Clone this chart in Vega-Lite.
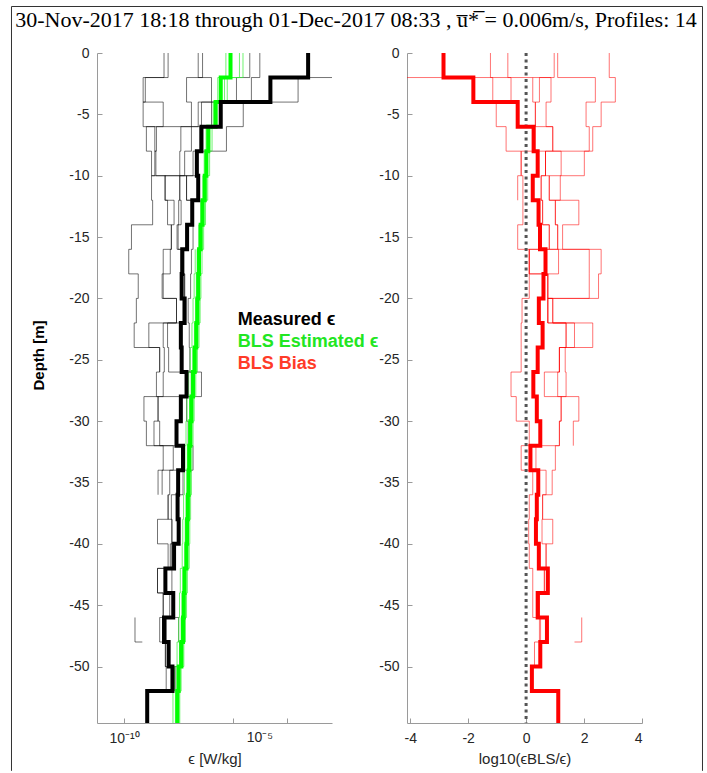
{
  "$schema": "https://vega.github.io/schema/vega-lite/v6.json",
  "padding": {"left": 10, "top": 6, "right": 5, "bottom": 0},
  "autosize": {"type": "pad"},
  "bounds": "flush",
  "spacing": 75,
  "config": {
    "view": {"stroke": null},
    "axis": {"grid": false, "domainColor": "#9a9a9a", "domainWidth": 1, "tickColor": "#9a9a9a", "tickSize": -5, "labelColor": "#262626", "labelFont": "Liberation Sans", "labelFontSize": 14, "labelPadding": 13, "labelOverlap": false, "titleFont": "Liberation Sans", "titleFontSize": 15, "titleFontWeight": "normal", "titleColor": "#262626", "titlePadding": 6}
  },
  "datasets": {
    "eps": [
      {"p":"M","d":0,"v":-3.22},{"p":"M","d":-2,"v":-4.61},{"p":"M","d":-4,"v":-6.44},{"p":"M","d":-6,"v":-7.15},{"p":"M","d":-8,"v":-7.32},{"p":"M","d":-10,"v":-7.27},{"p":"M","d":-12,"v":-7.49},{"p":"M","d":-14,"v":-7.68},{"p":"M","d":-16,"v":-7.86},{"p":"M","d":-18,"v":-7.88},{"p":"M","d":-20,"v":-7.77},{"p":"M","d":-22,"v":-7.91},{"p":"M","d":-24,"v":-7.88},{"p":"M","d":-26,"v":-7.70},{"p":"M","d":-28,"v":-7.91},{"p":"M","d":-30,"v":-8.07},{"p":"M","d":-32,"v":-7.83},{"p":"M","d":-34,"v":-8.01},{"p":"M","d":-36,"v":-8.03},{"p":"M","d":-38,"v":-7.99},{"p":"M","d":-40,"v":-8.16},{"p":"M","d":-42,"v":-8.48},{"p":"M","d":-44,"v":-8.19},{"p":"M","d":-46,"v":-8.53},{"p":"M","d":-48,"v":-8.36},{"p":"M","d":-50,"v":-8.22},{"p":"M","d":-52,"v":-9.15},{"p":"M","d":-54.6,"v":-9.15},
      {"p":"G","d":0,"v":-6.08},{"p":"G","d":-2,"v":-6.44},{"p":"G","d":-4,"v":-6.63},{"p":"G","d":-6,"v":-6.90},{"p":"G","d":-8,"v":-6.97},{"p":"G","d":-10,"v":-7.03},{"p":"G","d":-12,"v":-7.11},{"p":"G","d":-14,"v":-7.18},{"p":"G","d":-16,"v":-7.24},{"p":"G","d":-18,"v":-7.27},{"p":"G","d":-20,"v":-7.30},{"p":"G","d":-22,"v":-7.34},{"p":"G","d":-24,"v":-7.40},{"p":"G","d":-26,"v":-7.46},{"p":"G","d":-28,"v":-7.52},{"p":"G","d":-30,"v":-7.56},{"p":"G","d":-32,"v":-7.60},{"p":"G","d":-34,"v":-7.62},{"p":"G","d":-36,"v":-7.65},{"p":"G","d":-38,"v":-7.68},{"p":"G","d":-40,"v":-7.70},{"p":"G","d":-42,"v":-7.77},{"p":"G","d":-44,"v":-7.80},{"p":"G","d":-46,"v":-7.83},{"p":"G","d":-48,"v":-7.89},{"p":"G","d":-50,"v":-7.99},{"p":"G","d":-52,"v":-8.04},{"p":"G","d":-54.6,"v":-8.04},
      {"p":"m1","d":0,"v":-1.5},{"p":"m1","d":-2,"v":-3.59},{"p":"m1","d":-4,"v":-5.61},{"p":"m1","d":-6,"v":-6.23},{"p":"m1","d":-8,"v":-7.46},{"p":"m1","d":-10,"v":-7.70},{"p":"m1","d":-12,"v":-7.52},{"p":"m1","d":-14,"v":-7.46},{"p":"m1","d":-16,"v":-7.52},{"p":"m1","d":-18,"v":-7.55},{"p":"m1","d":-20,"v":-7.64},{"p":"m1","d":-22,"v":-7.60},{"p":"m1","d":-24,"v":-7.58},{"p":"m1","d":-26,"v":-7.15},{"p":"m1","d":-28,"v":-7.70},{"p":"m1","d":-30,"v":-7.64},{"p":"m1","d":-32,"v":-7.46},{"p":"m1","d":-34,"v":-7.83},{"p":"m1","d":-36,"v":-8.26},{"p":"m1","d":-38,"v":-8.24},{"p":"m1","d":-40,"v":-8.26},{"p":"m1","d":-42,"v":-8.24},{"p":"m1","d":-44,"v":-8.32},{"p":"m1","d":-46,"v":-7.99},{"p":"m1","d":-48,"v":-7.95},{"p":"m1","d":-50,"v":-8.13},{"p":"m1","d":-52,"v":-8.13},
      {"p":"m2","d":0,"v":-5.00},{"p":"m2","d":-2,"v":-5.31},{"p":"m2","d":-4,"v":-6.78},{"p":"m2","d":-6,"v":-7.21},{"p":"m2","d":-8,"v":-7.34},{"p":"m2","d":-10,"v":-7.95},{"p":"m2","d":-12,"v":-7.99},{"p":"m2","d":-14,"v":-8.01},{"p":"m2","d":-16,"v":-7.83},{"p":"m2","d":-18,"v":-7.77},{"p":"m2","d":-20,"v":-7.83},{"p":"m2","d":-22,"v":-8.40},{"p":"m2","d":-24,"v":-8.36},{"p":"m2","d":-26,"v":-7.52},{"p":"m2","d":-28,"v":-8.75},{"p":"m2","d":-30,"v":-8.69},{"p":"m2","d":-32,"v":-7.83},{"p":"m2","d":-34,"v":-8.32},{"p":"m2","d":-36,"v":-8.38},{"p":"m2","d":-38,"v":-8.77},{"p":"m2","d":-40,"v":-8.38},{"p":"m2","d":-42,"v":-8.77},{"p":"m2","d":-44,"v":-8.56},{"p":"m2","d":-46,"v":-8.44},{"p":"m2","d":-48,"v":-8.48},{"p":"m2","d":-50,"v":-8.45},{"p":"m2","d":-52,"v":-8.45},
      {"p":"m3","d":0,"v":-5.37},{"p":"m3","d":-2,"v":-5.86},{"p":"m3","d":-4,"v":-7.15},{"p":"m3","d":-6,"v":-7.52},{"p":"m3","d":-8,"v":-7.77},{"p":"m3","d":-10,"v":-8.50},{"p":"m3","d":-12,"v":-8.16},{"p":"m3","d":-14,"v":-8.26},{"p":"m3","d":-16,"v":-8.30},{"p":"m3","d":-18,"v":-8.56},{"p":"m3","d":-20,"v":-8.07},{"p":"m3","d":-22,"v":-8.56},{"p":"m3","d":-24,"v":-8.52},{"p":"m3","d":-26,"v":-8.56},{"p":"m3","d":-28,"v":-9.27},{"p":"m3","d":-30,"v":-9.18},{"p":"m3","d":-32,"v":-8.19},{"p":"m3","d":-34,"v":-8.75},{"p":"m3","d":-36,"v":-8.75},
      {"p":"m4","d":0,"v":-7.11},{"p":"m4","d":-2,"v":-7.70},{"p":"m4","d":-4,"v":-7.52},{"p":"m4","d":-6,"v":-8.81},{"p":"m4","d":-8,"v":-8.87},{"p":"m4","d":-10,"v":-8.99},{"p":"m4","d":-12,"v":-8.95},{"p":"m4","d":-14,"v":-9.73},{"p":"m4","d":-16,"v":-9.83},{"p":"m4","d":-18,"v":-9.48},{"p":"m4","d":-20,"v":-9.55},{"p":"m4","d":-22,"v":-9.63},{"p":"m4","d":-24,"v":-8.69},{"p":"m4","d":-26,"v":-8.81},{"p":"m4","d":-28,"v":-8.75},{"p":"m4","d":-30,"v":-8.90},{"p":"m4","d":-32,"v":-8.56},{"p":"m4","d":-34,"v":-8.60},{"p":"m4","d":-36,"v":-8.60},
      {"p":"m5","d":0,"v":-8.53},{"p":"m5","d":-2,"v":-9.30},{"p":"m5","d":-4,"v":-8.56},{"p":"m5","d":-6,"v":-9.18},{"p":"m5","d":-8,"v":-8.99},{"p":"m5","d":-10,"v":-8.48},{"p":"m5","d":-12,"v":-8.40},{"p":"m5","d":-14,"v":-8.26},{"p":"m5","d":-16,"v":-8.56},{"p":"m5","d":-18,"v":-8.60},{"p":"m5","d":-20,"v":-8.07},{"p":"m5","d":-22,"v":-9.09},{"p":"m5","d":-24,"v":-8.69},{"p":"m5","d":-26,"v":-8.69},
      {"p":"m6","d":0,"v":-8.38},{"p":"m6","d":-2,"v":-9.22},{"p":"m6","d":-4,"v":-9.30},{"p":"m6","d":-6,"v":-8.87},{"p":"m6","d":-8,"v":-8.83},{"p":"m6","d":-10,"v":-7.95},{"p":"m6","d":-12,"v":-7.90},{"p":"m6","d":-14,"v":-8.05},{"p":"m6","d":-16,"v":-7.80},{"p":"m6","d":-18,"v":-7.77},{"p":"m6","d":-20,"v":-7.77},
      {"p":"m7","d":0,"v":-7.27},{"p":"m7","d":-2,"v":-6.78},{"p":"m7","d":-4,"v":-7.27},{"p":"m7","d":-6,"v":-7.91},{"p":"m7","d":-8,"v":-7.95},{"p":"m7","d":-10,"v":-7.70},{"p":"m7","d":-12,"v":-7.52},{"p":"m7","d":-14,"v":-7.52},
      {"p":"m8","d":-36,"v":-8.38},{"p":"m8","d":-38,"v":-8.24},{"p":"m8","d":-40,"v":-8.30},{"p":"m8","d":-42,"v":-8.77},{"p":"m8","d":-44,"v":-8.56},{"p":"m8","d":-46,"v":-8.69},{"p":"m8","d":-48,"v":-8.48},{"p":"m8","d":-50,"v":-8.13},{"p":"m8","d":-52,"v":-8.13},
      {"p":"m9","d":-46,"v":-9.60},{"p":"m9","d":-48,"v":-9.33},
      {"p":"g1","d":0,"v":-5.75},{"p":"g1","d":-2,"v":-6.20},{"p":"g1","d":-4,"v":-6.45},{"p":"g1","d":-6,"v":-6.76},{"p":"g1","d":-8,"v":-6.85},{"p":"g1","d":-10,"v":-6.92},{"p":"g1","d":-12,"v":-7.00},{"p":"g1","d":-14,"v":-7.07},{"p":"g1","d":-16,"v":-7.13},{"p":"g1","d":-18,"v":-7.17},{"p":"g1","d":-20,"v":-7.20},{"p":"g1","d":-22,"v":-7.24},{"p":"g1","d":-24,"v":-7.30},{"p":"g1","d":-26,"v":-7.36},{"p":"g1","d":-28,"v":-7.42},{"p":"g1","d":-30,"v":-7.46},{"p":"g1","d":-32,"v":-7.50},{"p":"g1","d":-34,"v":-7.52},{"p":"g1","d":-36,"v":-7.55},{"p":"g1","d":-38,"v":-7.58},{"p":"g1","d":-40,"v":-7.60},{"p":"g1","d":-42,"v":-7.67},{"p":"g1","d":-44,"v":-7.70},{"p":"g1","d":-46,"v":-7.74},{"p":"g1","d":-48,"v":-7.80},{"p":"g1","d":-50,"v":-7.90},{"p":"g1","d":-52,"v":-7.95},{"p":"g1","d":-54.6,"v":-7.95},
      {"p":"g2","d":0,"v":-6.25},{"p":"g2","d":-2,"v":-6.55},{"p":"g2","d":-4,"v":-6.72},{"p":"g2","d":-6,"v":-6.98},{"p":"g2","d":-8,"v":-7.05},{"p":"g2","d":-10,"v":-7.10},{"p":"g2","d":-12,"v":-7.18},{"p":"g2","d":-14,"v":-7.25},{"p":"g2","d":-16,"v":-7.31},{"p":"g2","d":-18,"v":-7.34},{"p":"g2","d":-20,"v":-7.37},{"p":"g2","d":-22,"v":-7.41},{"p":"g2","d":-24,"v":-7.47},{"p":"g2","d":-26,"v":-7.53},{"p":"g2","d":-28,"v":-7.59},{"p":"g2","d":-30,"v":-7.63},{"p":"g2","d":-32,"v":-7.67},{"p":"g2","d":-34,"v":-7.69},{"p":"g2","d":-36,"v":-7.72},{"p":"g2","d":-38,"v":-7.75},{"p":"g2","d":-40,"v":-7.77},{"p":"g2","d":-42,"v":-7.84},{"p":"g2","d":-44,"v":-7.87},{"p":"g2","d":-46,"v":-7.90},{"p":"g2","d":-48,"v":-7.96},{"p":"g2","d":-50,"v":-8.06},{"p":"g2","d":-52,"v":-8.11},{"p":"g2","d":-54.6,"v":-8.11},
      {"p":"g3","d":0,"v":-5.62},{"p":"g3","d":-2,"v":-6.30},{"p":"g3","d":-4,"v":-6.58},{"p":"g3","d":-6,"v":-6.84},{"p":"g3","d":-8,"v":-6.92},{"p":"g3","d":-10,"v":-6.98},{"p":"g3","d":-12,"v":-7.06},{"p":"g3","d":-14,"v":-7.13},{"p":"g3","d":-16,"v":-7.19},{"p":"g3","d":-18,"v":-7.22},{"p":"g3","d":-20,"v":-7.25},{"p":"g3","d":-22,"v":-7.29},{"p":"g3","d":-24,"v":-7.35},{"p":"g3","d":-26,"v":-7.41},{"p":"g3","d":-28,"v":-7.47},{"p":"g3","d":-30,"v":-7.51},{"p":"g3","d":-32,"v":-7.55},{"p":"g3","d":-34,"v":-7.55},
      {"p":"g4","d":-16,"v":-7.38},{"p":"g4","d":-18,"v":-7.42},{"p":"g4","d":-20,"v":-7.46},{"p":"g4","d":-22,"v":-7.50},{"p":"g4","d":-24,"v":-7.56},{"p":"g4","d":-26,"v":-7.62},{"p":"g4","d":-28,"v":-7.68},{"p":"g4","d":-30,"v":-7.72},{"p":"g4","d":-32,"v":-7.76},{"p":"g4","d":-34,"v":-7.78},{"p":"g4","d":-36,"v":-7.81},{"p":"g4","d":-38,"v":-7.84},{"p":"g4","d":-40,"v":-7.86},{"p":"g4","d":-42,"v":-7.93},{"p":"g4","d":-44,"v":-7.96},{"p":"g4","d":-46,"v":-7.99},{"p":"g4","d":-48,"v":-8.05},{"p":"g4","d":-50,"v":-8.15},{"p":"g4","d":-52,"v":-8.20},{"p":"g4","d":-54.6,"v":-8.20}
    ],
    "bias": [
      {"p":"R","d":0,"v":-2.85},{"p":"R","d":-2,"v":-1.82},{"p":"R","d":-4,"v":-0.29},{"p":"R","d":-6,"v":0.26},{"p":"R","d":-8,"v":0.40},{"p":"R","d":-10,"v":0.23},{"p":"R","d":-12,"v":0.43},{"p":"R","d":-14,"v":0.48},{"p":"R","d":-16,"v":0.67},{"p":"R","d":-18,"v":0.60},{"p":"R","d":-20,"v":0.44},{"p":"R","d":-22,"v":0.57},{"p":"R","d":-24,"v":0.40},{"p":"R","d":-26,"v":0.25},{"p":"R","d":-28,"v":0.37},{"p":"R","d":-30,"v":0.49},{"p":"R","d":-32,"v":0.15},{"p":"R","d":-34,"v":0.42},{"p":"R","d":-36,"v":0.37},{"p":"R","d":-38,"v":0.34},{"p":"R","d":-40,"v":0.44},{"p":"R","d":-42,"v":0.75},{"p":"R","d":-44,"v":0.40},{"p":"R","d":-46,"v":0.72},{"p":"R","d":-48,"v":0.49},{"p":"R","d":-50,"v":0.20},{"p":"R","d":-52,"v":1.11},{"p":"R","d":-54.6,"v":1.11},
      {"p":"r1","d":0,"v":-4.6},{"p":"r1","d":-2,"v":0.86},{"p":"r1","d":-4,"v":0.69},{"p":"r1","d":-6,"v":0.92},{"p":"r1","d":-8,"v":1.21},{"p":"r1","d":-10,"v":1.18},{"p":"r1","d":-12,"v":1.01},{"p":"r1","d":-14,"v":1.09},{"p":"r1","d":-16,"v":1.12},{"p":"r1","d":-18,"v":0.75},{"p":"r1","d":-20,"v":0.92},{"p":"r1","d":-22,"v":1.38},{"p":"r1","d":-24,"v":1.35},{"p":"r1","d":-26,"v":1.38},{"p":"r1","d":-28,"v":1.21},{"p":"r1","d":-30,"v":1.15},{"p":"r1","d":-32,"v":1.01},{"p":"r1","d":-34,"v":0.90},{"p":"r1","d":-36,"v":0.57},{"p":"r1","d":-38,"v":0.55},{"p":"r1","d":-40,"v":0.69},{"p":"r1","d":-42,"v":0.63},{"p":"r1","d":-44,"v":0.46},{"p":"r1","d":-46,"v":0.50},{"p":"r1","d":-48,"v":0.46},{"p":"r1","d":-50,"v":0.46},
      {"p":"r2","d":0,"v":2.87},{"p":"r2","d":-2,"v":3.08},{"p":"r2","d":-4,"v":2.59},{"p":"r2","d":-6,"v":2.30},{"p":"r2","d":-8,"v":2.01},{"p":"r2","d":-10,"v":0.80},{"p":"r2","d":-12,"v":1.82},{"p":"r2","d":-14,"v":1.26},{"p":"r2","d":-16,"v":2.59},{"p":"r2","d":-18,"v":2.50},{"p":"r2","d":-20,"v":0.75},{"p":"r2","d":-22,"v":2.30},{"p":"r2","d":-24,"v":1.15},{"p":"r2","d":-26,"v":1.09},{"p":"r2","d":-28,"v":1.82},{"p":"r2","d":-30,"v":1.63},{"p":"r2","d":-32,"v":1.63},
      {"p":"r3","d":0,"v":1.09},{"p":"r3","d":-2,"v":2.39},{"p":"r3","d":-4,"v":2.07},{"p":"r3","d":-6,"v":2.18},{"p":"r3","d":-8,"v":0.67},{"p":"r3","d":-10,"v":0.52},{"p":"r3","d":-12,"v":0.57},{"p":"r3","d":-14,"v":0.80},{"p":"r3","d":-16,"v":2.18},{"p":"r3","d":-18,"v":2.18},{"p":"r3","d":-20,"v":0.75},{"p":"r3","d":-22,"v":1.67},{"p":"r3","d":-24,"v":1.15},{"p":"r3","d":-26,"v":1.15},
      {"p":"r4","d":0,"v":-1.23},{"p":"r4","d":-2,"v":-1.15},{"p":"r4","d":-4,"v":-0.29},{"p":"r4","d":-6,"v":0.30},{"p":"r4","d":-8,"v":-0.17},{"p":"r4","d":-10,"v":-0.11},{"p":"r4","d":-12,"v":-0.11},{"p":"r4","d":-14,"v":-0.29},{"p":"r4","d":-16,"v":0.11},{"p":"r4","d":-18,"v":0.11},{"p":"r4","d":-20,"v":-0.14},{"p":"r4","d":-22,"v":-0.17},{"p":"r4","d":-24,"v":-0.17},{"p":"r4","d":-26,"v":-0.52},{"p":"r4","d":-28,"v":-0.34},{"p":"r4","d":-30,"v":0.11},{"p":"r4","d":-32,"v":-0.17},{"p":"r4","d":-34,"v":0.23},{"p":"r4","d":-36,"v":0.11},{"p":"r4","d":-38,"v":0.09},{"p":"r4","d":-40,"v":0.11},{"p":"r4","d":-42,"v":0.23},{"p":"r4","d":-44,"v":0.23},{"p":"r4","d":-46,"v":0.46},{"p":"r4","d":-48,"v":0.29},{"p":"r4","d":-50,"v":0.29},
      {"p":"r5","d":0,"v":-0.63},{"p":"r5","d":-2,"v":-0.52},{"p":"r5","d":-4,"v":-1.03},{"p":"r5","d":-6,"v":-0.69},{"p":"r5","d":-8,"v":-0.17},{"p":"r5","d":-10,"v":-0.29},{"p":"r5","d":-12,"v":-0.29},
      {"p":"r6","d":0,"v":0.97},{"p":"r6","d":-2,"v":0.46},{"p":"r6","d":-4,"v":0.32},{"p":"r6","d":-6,"v":0.92},{"p":"r6","d":-8,"v":0.67},{"p":"r6","d":-10,"v":0.80},{"p":"r6","d":-12,"v":1.01},{"p":"r6","d":-14,"v":1.09},{"p":"r6","d":-16,"v":0.11},{"p":"r6","d":-18,"v":0.75},{"p":"r6","d":-20,"v":0.92},{"p":"r6","d":-22,"v":1.38},{"p":"r6","d":-24,"v":1.15},{"p":"r6","d":-26,"v":0.63},{"p":"r6","d":-28,"v":1.21},{"p":"r6","d":-30,"v":1.15},{"p":"r6","d":-32,"v":0.34},{"p":"r6","d":-34,"v":0.69},{"p":"r6","d":-36,"v":0.57},{"p":"r6","d":-38,"v":0.92},{"p":"r6","d":-40,"v":0.69},{"p":"r6","d":-42,"v":0.63},{"p":"r6","d":-44,"v":0.46},{"p":"r6","d":-46,"v":0.46},
      {"p":"r7","d":-2,"v":0.23},{"p":"r7","d":-4,"v":0.32},{"p":"r7","d":-6,"v":0.30},{"p":"r7","d":-8,"v":0.67},{"p":"r7","d":-10,"v":0.52},{"p":"r7","d":-12,"v":0.57},{"p":"r7","d":-14,"v":0.80},{"p":"r7","d":-16,"v":0.11},{"p":"r7","d":-18,"v":0.75},{"p":"r7","d":-20,"v":0.75},{"p":"r7","d":-22,"v":0.75},
      {"p":"r8","d":-46,"v":1.92},{"p":"r8","d":-48,"v":1.67}
    ]
  },
  "hconcat": [
    {
      "width": 235,
      "height": 670,
      "data": {"name": "eps"},
      "layer": [
        {
          "transform": [{"filter": "indexof(datum.p, 'm') == 0"}],
          "mark": {"type": "line", "interpolate": "step-before", "clip": true, "color": "#000000", "strokeWidth": 1, "opacity": 0.55},
          "encoding": {
            "x": {"field": "v", "type": "quantitative", "scale": {"domain": [-11, -2.34], "nice": false, "zero": false},
                  "axis": {"values": [-10, -9, -8, -7, -6, -5, -4, -3], "labelOverlap": false, "labelFlush": false, "labelExpr": "datum.value == -10 ? '10⁻¹⁰' : ''", "title": "ϵ [W/kg]"}},
            "y": {"field": "d", "type": "quantitative", "scale": {"domain": [-54.6, 0], "nice": false, "zero": false},
                  "axis": {"values": [0, -5, -10, -15, -20, -25, -30, -35, -40, -45, -50], "labelExpr": "'' + datum.value", "title": "Depth [m]", "titleFontWeight": "bold", "titleColor": "#000000", "titleX": -59, "titleY": 302, "titleAngle": 270, "titleAlign": "center", "titleBaseline": "middle"}},
            "detail": {"field": "p"},
            "order": {"field": "d", "sort": "descending"}
          }
        },
        {
          "transform": [{"filter": "indexof(datum.p, 'g') == 0"}],
          "mark": {"type": "line", "interpolate": "step-before", "clip": true, "color": "#33ee33", "strokeWidth": 1, "opacity": 0.7},
          "encoding": {
            "x": {"field": "v", "type": "quantitative"},
            "y": {"field": "d", "type": "quantitative"},
            "detail": {"field": "p"},
            "order": {"field": "d", "sort": "descending"}
          }
        },
        {
          "transform": [{"filter": "datum.p == 'G'"}],
          "mark": {"type": "line", "interpolate": "step-before", "clip": true, "color": "#00ff00", "strokeWidth": 4},
          "encoding": {
            "x": {"field": "v", "type": "quantitative"},
            "y": {"field": "d", "type": "quantitative"},
            "order": {"field": "d", "sort": "descending"}
          }
        },
        {
          "transform": [{"filter": "datum.p == 'M'"}],
          "mark": {"type": "line", "interpolate": "step-before", "clip": true, "color": "#000000", "strokeWidth": 4},
          "encoding": {
            "x": {"field": "v", "type": "quantitative"},
            "y": {"field": "d", "type": "quantitative"},
            "order": {"field": "d", "sort": "descending"}
          }
        },
        {
          "data": {"values": [{}]},
          "mark": {"type": "text", "clip": false, "align": "center", "baseline": "top", "font": "Liberation Sans", "fontSize": 14, "color": "#262626"},
          "encoding": {"x": {"datum": -5, "type": "quantitative"}, "y": {"datum": -55.25, "type": "quantitative"}, "text": {"value": "10⁻⁵"}}
        },
        {
          "data": {"values": [{}]},
          "mark": {"type": "text", "clip": false, "align": "center", "baseline": "alphabetic", "font": "Liberation Serif", "fontSize": 22, "color": "#000000"},
          "encoding": {"x": {"datum": -1.456, "type": "quantitative"}, "y": {"datum": 2.094, "type": "quantitative"}, "text": {"value": "30-Nov-2017 18:18 through 01-Dec-2017 08:33 , u̅*̅ = 0.006m/s, Profiles: 14"}}
        },
        {
          "data": {"values": [{}]},
          "mark": {"type": "text", "clip": false, "align": "left", "baseline": "alphabetic", "font": "Liberation Sans", "fontSize": 18, "fontWeight": "bold", "color": "#000000"},
          "encoding": {"x": {"datum": -5.815, "type": "quantitative"}, "y": {"datum": -22.17, "type": "quantitative"}, "text": {"value": "Measured ϵ"}}
        },
        {
          "data": {"values": [{}]},
          "mark": {"type": "text", "clip": false, "align": "left", "baseline": "alphabetic", "font": "Liberation Sans", "fontSize": 18, "fontWeight": "bold", "color": "#22e622"},
          "encoding": {"x": {"datum": -5.815, "type": "quantitative"}, "y": {"datum": -23.93, "type": "quantitative"}, "text": {"value": "BLS Estimated ϵ"}}
        },
        {
          "data": {"values": [{}]},
          "mark": {"type": "text", "clip": false, "align": "left", "baseline": "alphabetic", "font": "Liberation Sans", "fontSize": 18, "fontWeight": "bold", "color": "#ff3b28"},
          "encoding": {"x": {"datum": -5.815, "type": "quantitative"}, "y": {"datum": -25.78, "type": "quantitative"}, "text": {"value": "BLS Bias"}}
        },
        {
          "data": {"values": [{}]},
          "mark": {"type": "rule", "clip": false, "color": "#333333", "strokeWidth": 1},
          "encoding": {"x": {"datum": -14.151, "type": "quantitative"}, "y": {"datum": 3.789, "type": "quantitative"}, "y2": {"datum": -58.5}}
        },
        {
          "data": {"values": [{}]},
          "mark": {"type": "rule", "clip": false, "color": "#333333", "strokeWidth": 1},
          "encoding": {"x": {"datum": 11.313, "type": "quantitative"}, "y": {"datum": 3.789, "type": "quantitative"}, "y2": {"datum": -58.5}}
        },
        {
          "data": {"values": [{}]},
          "mark": {"type": "rule", "clip": false, "color": "#333333", "strokeWidth": 1},
          "encoding": {"x": {"datum": -14.151, "type": "quantitative"}, "x2": {"datum": 11.313}, "y": {"datum": 3.789, "type": "quantitative"}}
        }
      ]
    },
    {
      "width": 235,
      "height": 670,
      "data": {"name": "bias"},
      "layer": [
        {
          "transform": [{"filter": "indexof(datum.p, 'r') == 0"}],
          "mark": {"type": "line", "interpolate": "step-before", "clip": true, "color": "#ff0000", "strokeWidth": 1, "opacity": 0.55},
          "encoding": {
            "x": {"field": "v", "type": "quantitative", "scale": {"domain": [-4.11, 4], "nice": false, "zero": false},
                  "axis": {"values": [-4, -2, 0, 2, 4], "labelExpr": "'' + datum.value", "title": "log10(ϵBLS/ϵ)"}},
            "y": {"field": "d", "type": "quantitative", "scale": {"domain": [-54.6, 0], "nice": false, "zero": false},
                  "axis": {"values": [0, -5, -10, -15, -20, -25, -30, -35, -40, -45, -50], "labelExpr": "'' + datum.value", "title": null}},
            "detail": {"field": "p"},
            "order": {"field": "d", "sort": "descending"}
          }
        },
        {
          "data": {"values": [{}]},
          "mark": {"type": "rule", "color": "#555555", "strokeWidth": 3, "strokeDash": [3, 3.5]},
          "encoding": {"x": {"datum": 0, "type": "quantitative"}}
        },
        {
          "transform": [{"filter": "datum.p == 'R'"}],
          "mark": {"type": "line", "interpolate": "step-before", "clip": true, "color": "#ff0000", "strokeWidth": 4},
          "encoding": {
            "x": {"field": "v", "type": "quantitative"},
            "y": {"field": "d", "type": "quantitative"},
            "order": {"field": "d", "sort": "descending"}
          }
        }
      ]
    }
  ]
}
